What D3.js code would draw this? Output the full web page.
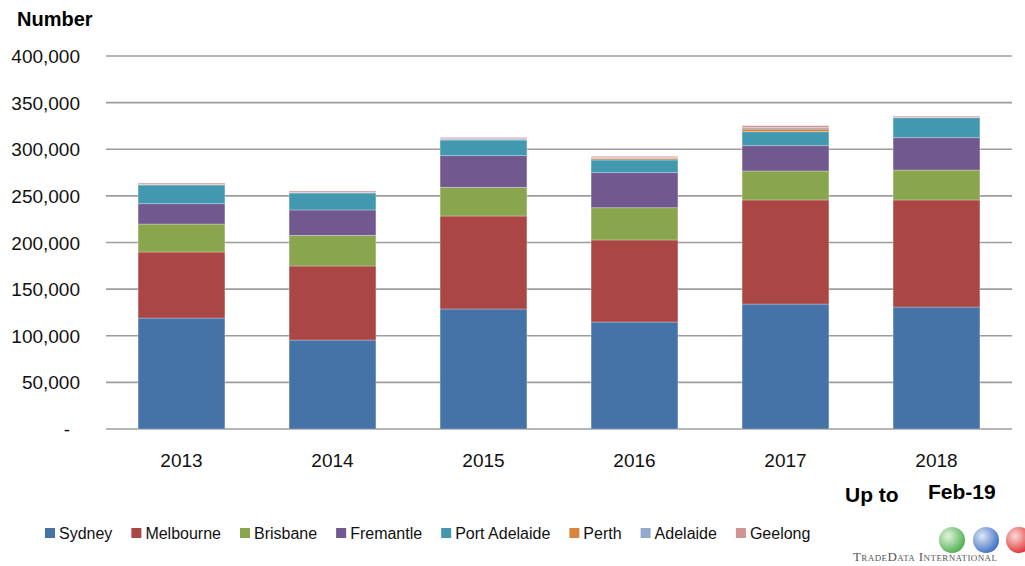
<!DOCTYPE html>
<html>
<head>
<meta charset="utf-8">
<script src="https://cdn.jsdelivr.net/npm/d3@7"></script>
<style>
  body { margin: 0; background: #fff; }
  text { font-family: "Liberation Sans", Arial, sans-serif; }
  text.logo { font-family: "Liberation Serif", serif; font-variant: small-caps; }
</style>
</head>
<body>
<div id="viz"></div>
<script>
"use strict";

const w = 1025;
const h = 566;

// data
const years = ["2013", "2014", "2015", "2016", "2017", "2018"];
const ports = ["Sydney", "Melbourne", "Brisbane", "Fremantle", "Port Adelaide", "Perth", "Adelaide", "Geelong"];
const sydney = [119000, 95400, 128700, 114700, 134000, 130800];
const melbourne = [70800, 79400, 99700, 88000, 111600, 114800];
const brisbane = [30000, 32900, 30800, 34600, 31100, 32100];
const fremantle = [21800, 27200, 33900, 37600, 27100, 34700];
const portAdelaide = [20100, 18200, 16800, 13600, 15000, 21400];
const perth = [300, 400, 300, 1500, 2900, 500];
const adelaide = [300, 300, 1500, 1200, 1800, 300];
const geelong = [1400, 1400, 1000, 1200, 1800, 1000];
const yTicks = [0, 50000, 100000, 150000, 200000, 250000, 300000, 350000, 400000];
const colors = ["#4572A7", "#AA4643", "#89A54E", "#71588F", "#4198AF", "#DB843D", "#93A9CF", "#D19392"];

const series = [sydney, melbourne, brisbane, fremantle, portAdelaide, perth, adelaide, geelong];
const rows = years.map((y, i) => {
  const r = { year: y };
  ports.forEach((p, j) => { r[p] = series[j][i]; });
  return r;
});

const margin = { left: 106, right: 13, top: 56, bottom: 137 };

const svg = d3.select("#viz")
  .append("svg")
  .attr("width", w)
  .attr("height", h);

const x = d3.scaleBand()
  .domain(years)
  .range([margin.left, w - margin.right])
  .paddingInner(0.425)
  .paddingOuter(0.2125);

const y = d3.scaleLinear()
  .domain([0, 400000])
  .range([h - margin.bottom, margin.top]);

const color = d3.scaleOrdinal().domain(ports).range(colors);

// gridlines
svg.append("g")
  .selectAll("line")
  .data(yTicks)
  .join("line")
  .attr("x1", margin.left)
  .attr("x2", w - margin.right)
  .attr("y1", d => y(d))
  .attr("y2", d => y(d))
  .attr("stroke", "#9c9c9c")
  .attr("stroke-width", 1.7);

// y labels
svg.append("g")
  .selectAll("text")
  .data(yTicks)
  .join("text")
  .attr("x", d => d === 0 ? 70 : 80)
  .attr("y", d => y(d) + 7)
  .attr("text-anchor", "end")
  .attr("font-size", 19)
  .attr("fill", "#111")
  .text(d => d === 0 ? "-" : d3.format(",")(d));

svg.append("text")
  .attr("x", 17)
  .attr("y", 26)
  .attr("font-size", 20)
  .attr("font-weight", "bold")
  .text("Number");

// stacked bars
const stacked = d3.stack().keys(ports)(rows);

svg.append("g")
  .selectAll("g")
  .data(stacked)
  .join("g")
  .attr("fill", d => color(d.key))
  .selectAll("rect")
  .data(d => d)
  .join("rect")
  .attr("x", d => x(d.data.year))
  .attr("width", x.bandwidth())
  .attr("y", d => y(d[1]))
  .attr("height", d => y(d[0]) - y(d[1]))
  .attr("stroke", "rgba(255,255,255,0.35)")
  .attr("stroke-width", 0.8);

// x labels
svg.append("g")
  .selectAll("text")
  .data(years)
  .join("text")
  .attr("x", d => x(d) + x.bandwidth() / 2)
  .attr("y", 467)
  .attr("text-anchor", "middle")
  .attr("font-size", 19)
  .attr("fill", "#111")
  .text(d => d);

svg.append("text")
  .attr("x", 845).attr("y", 502)
  .attr("font-size", 21).attr("font-weight", "bold")
  .text("Up to");
svg.append("text")
  .attr("x", 928).attr("y", 499)
  .attr("font-size", 21).attr("font-weight", "bold")
  .text("Feb-19");

// legend
const legend = svg.append("g");
let lx = 45;
ports.forEach(p => {
  const g = legend.append("g").attr("transform", `translate(${lx},0)`);
  g.append("rect")
    .attr("x", 0).attr("y", 528)
    .attr("width", 10).attr("height", 10)
    .attr("fill", color(p));
  const t = g.append("text")
    .attr("x", 14).attr("y", 539)
    .attr("font-size", 16)
    .attr("fill", "#111")
    .text(p);
  lx += 14 + t.node().getComputedTextLength() + 19;
});

// logo
const logo = svg.append("g");
const globes = [["#4fae4f", "#e2f4dc", 952], ["#3f6fc4", "#dde8f8", 986], ["#e03030", "#fadada", 1019]];
const defs = svg.append("defs");
globes.forEach((gdef, i) => {
  const grad = defs.append("radialGradient").attr("id", "gl" + i)
    .attr("cx", "35%").attr("cy", "35%").attr("r", "70%");
  grad.append("stop").attr("offset", "0%").attr("stop-color", gdef[1]);
  grad.append("stop").attr("offset", "100%").attr("stop-color", gdef[0]);
  logo.append("circle")
    .attr("cx", gdef[2]).attr("cy", 540).attr("r", 13)
    .attr("fill", `url(#gl${i})`);
});
logo.append("text")
  .attr("class", "logo")
  .attr("x", 853).attr("y", 561)
  .attr("font-size", 13)
  .attr("letter-spacing", 0.4)
  .attr("fill", "#555")
  .text("TradeData International");
</script>
</body>
</html>
